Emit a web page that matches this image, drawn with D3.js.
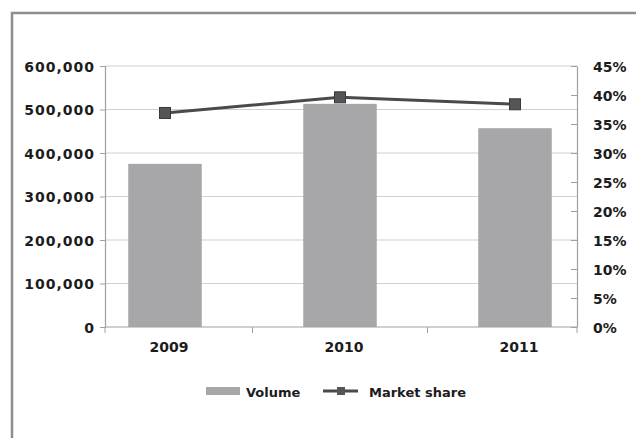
<!DOCTYPE html>
<html>
<head>
<meta charset="utf-8">
<script src="https://cdn.jsdelivr.net/npm/d3@7"></script>
<style>
  html, body { margin: 0; padding: 0; background: #fff; }
  svg { display: block; }
  text { font-family: "DejaVu Sans", Verdana, sans-serif; font-weight: bold; fill: #1c1c1c; }
</style>
</head>
<body>
<svg id="chart" width="636" height="438"></svg>
<script>
// Volume and market share by year
const years = ["2009", "2010", "2011"];
const volume = [375000, 513000, 457000];
const marketShare = [0.369, 0.396, 0.384];
const volumeTicks = [0, 100000, 200000, 300000, 400000, 500000, 600000];
const shareTicks = [0, 0.05, 0.10, 0.15, 0.20, 0.25, 0.30, 0.35, 0.40, 0.45];

const svg = d3.select("#chart");

const plot = { left: 105, right: 577, top: 66, bottom: 327 };

const x = d3.scalePoint().domain(years).range([165, 515]);
const yL = d3.scaleLinear().domain([0, 600000]).range([plot.bottom, plot.top]);
const yR = d3.scaleLinear().domain([0, 0.45]).range([plot.bottom, plot.top]);
const barW = x.step() * 0.42;

// outer frame (left and top edges only)
svg.append("path")
  .attr("d", `M12,438 V13 H636`)
  .attr("fill", "none")
  .attr("stroke", "#8e8e8e")
  .attr("stroke-width", 2.5);

// horizontal gridlines
svg.append("g").selectAll("line").data(volumeTicks.slice(1)).join("line")
  .attr("x1", plot.left).attr("x2", plot.right)
  .attr("y1", d => yL(d)).attr("y2", d => yL(d))
  .attr("stroke", "#d0d0d0").attr("stroke-width", 1.2);

// left axis
const leftAxis = svg.append("g")
  .attr("transform", `translate(${plot.left},0)`)
  .call(d3.axisLeft(yL).tickValues(volumeTicks).tickSize(5).tickPadding(5)
    .tickFormat(d3.format(",")));
leftAxis.select(".domain").attr("stroke", "#a0a0a0").attr("stroke-width", 1.2);
leftAxis.selectAll(".tick line").attr("stroke", "#a0a0a0");
leftAxis.selectAll("text")
  .attr("font-family", null).attr("font-size", null)
  .style("font-size", "14px").style("letter-spacing", "1px")
  .attr("dy", "0.36em");

// right axis
const rightAxis = svg.append("g")
  .attr("transform", `translate(${plot.right},0)`)
  .call(d3.axisRight(yR).tickValues(shareTicks).tickSize(0).tickPadding(16)
    .tickFormat(d3.format(".0%")));
rightAxis.select(".domain").attr("stroke", "#a0a0a0").attr("stroke-width", 1.2);
rightAxis.selectAll(".tick").append("line")
  .attr("x1", -6).attr("x2", 0).attr("stroke", "#a0a0a0");
rightAxis.selectAll("text")
  .attr("font-family", null).attr("font-size", null)
  .style("font-size", "14px").attr("dy", "0.36em");

// bars
svg.append("g").selectAll("rect").data(years).join("rect")
  .attr("x", (d) => x(d) - barW / 2)
  .attr("width", barW)
  .attr("y", (d, i) => yL(volume[i]))
  .attr("height", (d, i) => yL(0) - yL(volume[i]))
  .attr("fill", "#a7a7a9");

// bottom axis: baseline with ticks between categories
const base = yL(0);
svg.append("line")
  .attr("x1", plot.left).attr("x2", plot.right)
  .attr("y1", base).attr("y2", base)
  .attr("stroke", "#a0a0a0").attr("stroke-width", 1.2);
const dividers = [plot.left].concat(
  years.slice(1).map((d, i) => (x(years[i]) + x(d)) / 2), [plot.right]);
svg.append("g").selectAll("line").data(dividers).join("line")
  .attr("x1", d => d).attr("x2", d => d)
  .attr("y1", base).attr("y2", base + 6)
  .attr("stroke", "#a0a0a0");
svg.append("g").selectAll("text").data(years).join("text")
  .attr("x", d => x(d) + 4)
  .attr("y", 352)
  .attr("text-anchor", "middle")
  .style("font-size", "14px")
  .text(d => d);

// market share line with square markers
const line = d3.line()
  .x((d, i) => x(years[i]))
  .y(d => yR(d));
svg.append("path")
  .datum(marketShare)
  .attr("d", line)
  .attr("fill", "none")
  .attr("stroke", "#4a4a4a")
  .attr("stroke-width", 3);
const mk = 11;
svg.append("g").selectAll("rect").data(marketShare).join("rect")
  .attr("x", (d, i) => x(years[i]) - mk / 2)
  .attr("y", d => yR(d) - mk / 2)
  .attr("width", mk).attr("height", mk)
  .attr("fill", "#555557")
  .attr("stroke", "#3a3a3a");

// legend
const lg = svg.append("g");
lg.append("rect")
  .attr("x", 206).attr("y", 387).attr("width", 34).attr("height", 8)
  .attr("fill", "#a7a7a9");
lg.append("text").attr("x", 246).attr("y", 397)
  .style("font-size", "13px").text("Volume");
lg.append("line")
  .attr("x1", 323).attr("x2", 358).attr("y1", 391).attr("y2", 391)
  .attr("stroke", "#4a4a4a").attr("stroke-width", 3);
lg.append("rect")
  .attr("x", 341 - 4).attr("y", 391 - 4).attr("width", 8).attr("height", 8)
  .attr("fill", "#555557");
lg.append("text").attr("x", 369).attr("y", 397)
  .style("font-size", "13px").text("Market share");
</script>
</body>
</html>
